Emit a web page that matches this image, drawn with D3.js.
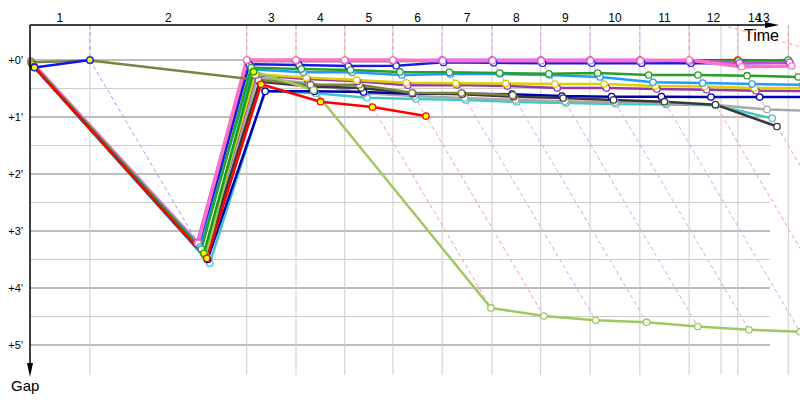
<!DOCTYPE html>
<html><head><meta charset="utf-8">
<script src="https://cdn.jsdelivr.net/npm/d3@7"></script>
<style>body{margin:0;background:#fff}svg{display:block;font-family:"Liberation Sans",Arial,sans-serif}</style>
</head><body><svg id="c" width="800" height="400"></svg>
<script>
// ---- data (seconds) ----
const lapLabels = ["1","2","3","4","5","6","7","8","9","10","11","12","13","14"];
// leader elapsed time at the end of each lap (index 0 = start)
const leaderTimes = [0,107,387,475,562,648,736,825,912,1000,1089,1177,1264,1354,1234];
const lapLineColors = [null,"#9a9cff","#ff9898","#ff9898","#ff9898","#ff9898","#e49cff","#e49cff","#e49cff","#e49cff","#e49cff","#ff9898","#ff9898","#ff9898"];
const gapTicksMin = [0,1,2,3,4,5];
const gapTickLabels = ["+0'","+1'","+2'","+3'","+4'","+5'"];
const lap14Slant = [[1234,-37],[1375,-14]];

// gaps to leader per lap (index = lap 0..13), null = no data
const gapRedTop    = [3,195,0.5,0.5,0.5,0.5,0.5,0.5,0.5,0.5,0.5,0.5,0,0.8];
const gapGreenTop  = [3.5,196,1,1,1,1,1,1,1,1,1,1,0.8,0];
const gapBlue      = [4,196,4.5,5.3,6.3,6,2.5,3,3.3,3.3,3.3,3.3,3.4,3];
const gapViolet    = [1.5,192,0.8,0.8,0.8,0.8,0,0,0,0,0,1,3,2.5];
const gapPink      = [1,193,0,0,0,0,0.8,0.8,0.8,0.8,0.8,0,7,6.3];
const gapTeal      = [8,214,32.3,35,39.7,41,42,44.2,45.3,46.3,46.8,47.7,61.4,null];
const gapGray      = [6.5,209,19,24.5,35,38,40,42,43.5,44.5,45.5,47.3,52,54];
const gapDarkBlue  = [7.5,210,33,33,33.7,35.5,35.5,36,37.9,38.6,38.6,39,39,39];
const gapBlack     = [6,206,23,28,29.5,35,36,38.6,40,42,43.9,47,70,null];
const gapOlive     = [2.5,0.5,21,26,26,34.4,34.7,37,null,null,null,null,null,null];
const gapPurple    = [6,205,16,20,22.5,26.6,26.3,27.4,29.5,29.5,30.5,31.3,32.3,32.6];
const gapYellow    = [5.5,204,15,18.5,21,24,24.5,24.7,25.3,25.3,27.4,28,29.5,29.5];
const gapLightBlue = [5,197,10,13,13,15.8,14.7,14.7,15.8,17.9,23.5,24.2,25.3,26];
const gapGreen     = [5,199,8,9.5,10.5,12.6,13,13.7,14.5,13.7,15.8,15.8,16.5,17.9];
const gapYGreen    = [6,207,12,31.6,261,269.5,274,276,280.5,284,286,289,292,295];
const gapGreen2    = [4.5,203.5,12.3,null,null,null,null,null,null,null,null,null,null,null];
const gapRed       = [7,208.8,25.6,43.9,49.5,59,null,null,null,null,null,null,null,null];
const gapBlueLead  = [8,0,null,null,null,null,null,null,null,null,null,null,null,null];

const driverGaps   = [gapRedTop,gapGreenTop,gapBlue,gapViolet,gapPink,gapTeal,gapGray,gapDarkBlue,gapBlack,gapOlive,gapPurple,gapYellow,gapLightBlue,gapGreen,gapYGreen,gapGreen2,gapRed,gapBlueLead];
const driverColors = ["#dd1010","#20a020","#1818e8","#c848e8","#ff70c8","#40c8c8","#a8a8a8","#0000b0","#383838","#808040","#9a38a8","#e0d000","#1e9cff","#28a028","#a0c860","#10a010","#ff0000","#1010ff"];
const driverFilled = [false,false,false,false,false,false,false,false,false,false,false,false,false,false,false,true,true,true];
const driverWidths = [2.5,2.5,2.5,3,3.5,2.5,2.5,2.5,2.5,2.5,2.5,2.5,2.5,2.5,2.5,2.5,2.5,2.5];

// ---- drawing ----
const svg = d3.select("#c");
const x = d3.scaleLinear().domain([0,1000]).range([30,590]);
const y = d3.scaleLinear().domain([0,300]).range([60,345]);
const axisY = 25, gridRight = 770, gridBottom = 375;

// horizontal grid
const minors = gapTicksMin.slice(0,-1).map(m => (m+0.5)*60);
svg.selectAll(".hmin").data(minors).join("line")
  .attr("x1",30).attr("x2",gridRight).attr("y1",d=>y(d)).attr("y2",d=>y(d))
  .attr("stroke","#cccccc").attr("stroke-width",1);
svg.selectAll(".hmaj").data(gapTicksMin).join("line")
  .attr("x1",30).attr("x2",gridRight).attr("y1",d=>y(d*60)).attr("y2",d=>y(d*60))
  .attr("stroke","#7a7a7a").attr("stroke-width",1);

// vertical lap lines
svg.selectAll(".vlap").data(leaderTimes.slice(1)).join("line")
  .attr("x1",d=>x(d)).attr("x2",d=>x(d)).attr("y1",axisY).attr("y2",gridBottom)
  .attr("stroke","#cccccc").attr("stroke-width",1);

// lap reference dashed lines
const maxGap = k => d3.max(driverGaps, g => g[k] == null ? -Infinity : g[k]);
for (let k = 1; k < lapLineColors.length; k++) {
  const t = leaderTimes[k], c = lapLineColors[k], G = maxGap(k);
  svg.append("line").attr("x1",x(t)).attr("x2",x(t)).attr("y1",axisY).attr("y2",y(0))
    .attr("stroke",c).attr("stroke-dasharray","4,3");
  svg.append("line").attr("x1",x(t)).attr("y1",y(0)).attr("x2",x(t+G)).attr("y2",y(G))
    .attr("stroke",c).attr("stroke-dasharray","4,3");
}
svg.append("line").attr("x1",x(lap14Slant[0][0])).attr("y1",y(lap14Slant[0][1]))
  .attr("x2",x(lap14Slant[1][0])).attr("y2",y(lap14Slant[1][1]))
  .attr("stroke","#ffa0a0").attr("stroke-dasharray","4,3");

// driver lines
const line = d3.line().defined(d=>d.g!=null).x(d=>x(d.t+d.g)).y(d=>y(d.g));
driverGaps.forEach((gs,i) => {
  const pts = gs.map((g,k)=>({t:leaderTimes[k],g}));
  svg.append("path").attr("d",line(pts)).attr("fill","none")
    .attr("stroke",driverColors[i]).attr("stroke-width",driverWidths[i])
    .attr("stroke-linejoin","round");
});
// markers
driverGaps.forEach((gs,i) => {
  const pts = gs.map((g,k)=>({t:leaderTimes[k],g})).filter(d=>d.g!=null);
  svg.selectAll(null).data(pts).join("circle")
    .attr("cx",d=>x(d.t+d.g)).attr("cy",d=>y(d.g)).attr("r",3.2)
    .attr("fill",driverFilled[i]?"#ffff00":"#ffffff")
    .attr("stroke",driverColors[i]).attr("stroke-width",1.3);
});

// axes
svg.append("rect").attr("x",0).attr("y",0).attr("width",800).attr("height",axisY).attr("fill","#fff");
svg.append("line").attr("x1",30).attr("x2",768).attr("y1",axisY).attr("y2",axisY).attr("stroke","#000").attr("stroke-width",1.5);
svg.append("path").attr("d",`M765,${axisY-3}L779,${axisY}L765,${axisY+3}Z`).attr("fill","#000");
svg.append("line").attr("x1",30).attr("x2",30).attr("y1",axisY).attr("y2",366).attr("stroke","#000").attr("stroke-width",1.5);
svg.append("path").attr("d","M27,363L30,377L33,363Z").attr("fill","#000");
svg.append("text").attr("x",744).attr("y",41).attr("font-size",16).text("Time");
svg.append("text").attr("x",11).attr("y",391).attr("font-size",15).text("Gap");

// lap labels
lapLabels.forEach((lab,i) => {
  const k = i+1;
  const cx = (x(leaderTimes[k-1]) + x(leaderTimes[k]))/2;
  svg.append("text").attr("x",cx).attr("y",22).attr("text-anchor","middle").attr("font-size",12).text(lab);
});
// gap labels
gapTickLabels.forEach((lab,i) => {
  svg.append("text").attr("x",23).attr("y",y(gapTicksMin[i]*60)+4).attr("text-anchor","end").attr("font-size",11).text(lab);
});
</script></body></html>
